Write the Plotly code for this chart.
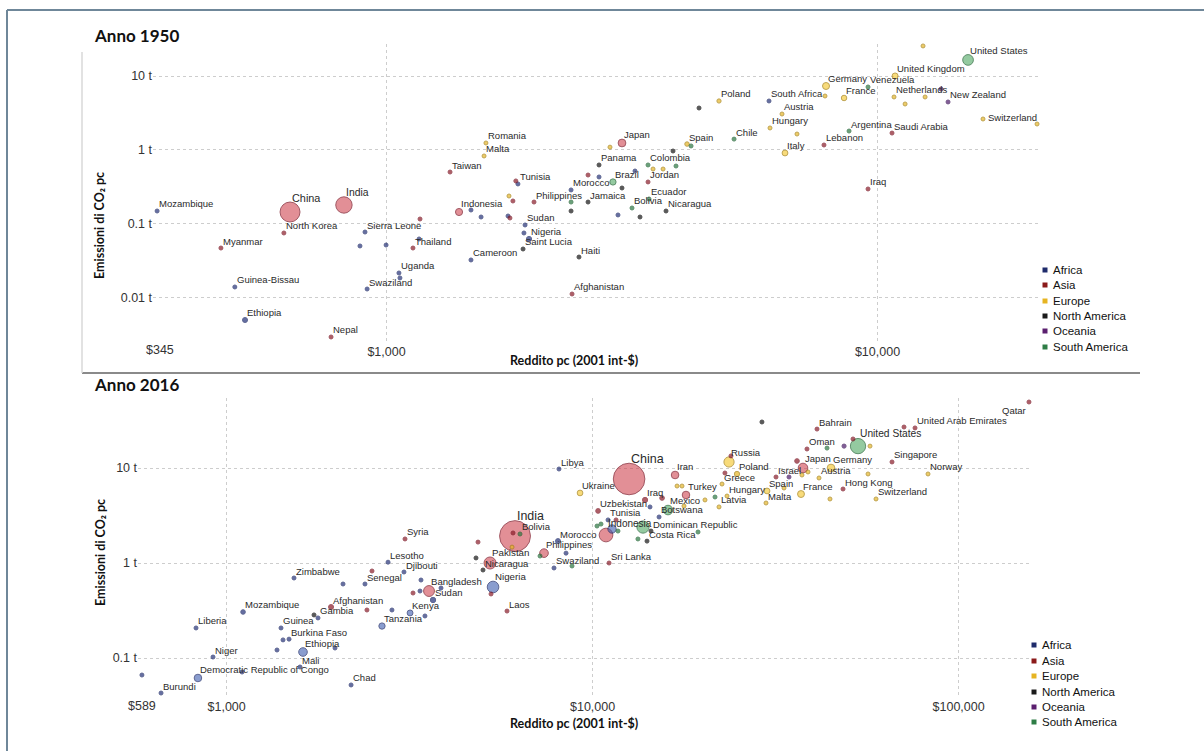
import math
import plotly.graph_objects as go

W, H = 1204, 751

# ---------------- data ----------------
regions = ["Africa", "Asia", "Europe", "North America", "Oceania", "South America"]

country_1950 = [
    "United States", "United Kingdom", "Germany", "France", "Venezuela", "Netherlands",
    "New Zealand", "Poland", "South Africa", "Austria", "Hungary", "Chile",
    "Argentina", "Saudi Arabia", "Switzerland", "Lebanon", "Spain", "Japan",
    "Italy", "Iraq", "Romania", "Malta", "Taiwan", "Tunisia",
    "Morocco", "Brazil", "Panama", "Colombia", "Jordan", "Ecuador",
    "Jamaica", "Philippines", "Bolivia", "Nicaragua", "Indonesia", "Sudan",
    "Nigeria", "Saint Lucia", "Thailand", "Cameroon", "Haiti", "Mozambique",
    "China", "India", "North Korea", "Sierra Leone", "Myanmar", "Uganda",
    "Guinea-Bissau", "Swaziland", "Ethiopia", "Nepal", "Afghanistan",
    "", "", "", "", "", "", "", "", "", "", "", "", "", "", "", "", "", "",
    "", "", "", "", "", "", "", "", "", "", "", "", "", "", "", "", "",
]
region_1950 = [
    "South America", "Europe", "Europe", "Europe", "South America", "Europe",
    "Oceania", "Europe", "Africa", "Europe", "Europe", "South America",
    "South America", "Asia", "Europe", "Asia", "Europe", "Asia",
    "Europe", "Asia", "Europe", "Europe", "Asia", "Africa",
    "Africa", "South America", "North America", "South America", "Asia", "South America",
    "North America", "Asia", "South America", "North America", "Asia", "Africa",
    "Africa", "North America", "Asia", "Africa", "North America", "Africa",
    "Asia", "Asia", "Asia", "Africa", "Asia", "Africa",
    "Africa", "Africa", "Africa", "Asia", "Asia",
    "Europe", "Oceania", "Europe", "Europe", "Europe", "North America", "Europe", "Europe",
    "Europe", "South America", "North America", "Europe", "Europe", "South America", "Asia",
    "Africa", "Africa", "North America", "South America", "North America", "Africa",
    "North America", "Asia", "Europe", "Africa", "Asia", "Africa", "Africa", "Asia", "Asia",
    "Africa", "Africa", "Africa", "Africa", "Africa",
]
income_1950 = [
    15290, 10860, 7855, 8548, 9565, 10805,
    13920, 4755, 6012, 6390, 6040, 5103,
    8750, 10703, 21130, 7780, 4093, 3017,
    6480, 9565, 1594, 1580, 1347, 1852,
    2376, 2892, 2709, 3409, 3409, 3425,
    2573, 1997, 3162, 3709, 1405, 1915,
    1951, 1897, 1132, 1486, 2466, 341,
    636, 819, 618, 904, 460, 1060,
    491, 913, 515, 771, 2387,
    12380, 13470, 12500, 11380, 7817, 4330, 16400, 6855,
    2852, 4171, 3833, 3490, 3658, 3887, 2573,
    2709, 3207, 3017, 2376, 2376, 2961,
    3283, 1809, 1776, 1768, 1784, 1558, 1486, 1170, 1834,
    1905, 883, 998, 1165, 1065,
]
co2_1950 = [
    16.5, 10.0, 7.32, 5.04, 7.10, 5.20,
    4.45, 4.59, 4.59, 3.06, 1.98, 1.40,
    1.80, 1.69, 2.24, 1.165, 1.20, 1.24,
    0.908, 0.296, 1.24, 0.827, 0.502, 0.346,
    0.287, 0.368, 0.625, 0.625, 0.368, 0.2166,
    0.197, 0.197, 0.1636, 0.149, 0.1444, 0.0964,
    0.0623, 0.0456, 0.047, 0.0324, 0.0355, 0.149,
    0.1444, 0.1797, 0.0751, 0.0774, 0.047, 0.0216,
    0.01396, 0.01311, 0.00499, 0.00294, 0.01122,
    25.5, 6.67, 5.20, 4.18, 5.36, 3.69, 2.62, 1.64,
    1.09, 1.13, 0.966, 0.551, 0.551, 0.605, 0.457,
    0.430, 0.518, 0.305, 0.197, 0.149, 0.1316,
    0.1236, 0.2035, 0.2378, 0.1275, 0.1198, 0.1236, 0.1537, 0.1161, 0.380,
    0.0751, 0.0501, 0.0516, 0.0623, 0.0185,
]
pop_1950 = [
    158, 50, 68, 42, 5, 10,
    2, 25, 13, 7, 9, 6,
    17, 3, 5, 1.4, 28, 83,
    47, 5, 16, 0.3, 8, 3.5,
    9, 54, 0.9, 12, 0.5, 3.4,
    1.4, 18, 3, 1.3, 70, 6,
    37, 0.08, 20, 4.5, 3.2, 6,
    550, 370, 10, 2, 18, 5,
    0.5, 0.3, 35, 8, 8,
    0.3, 8, 4, 4, 1, 1, 1, 1,
    1, 2, 1, 1, 1, 1, 2,
    1, 2, 1, 1, 1, 1,
    1, 2, 1, 1, 1, 2, 1, 2, 1,
    1, 1, 1, 1, 1,
]

country_2016 = [
    "Qatar", "United Arab Emirates", "Bahrain", "United States", "Oman", "Russia",
    "Japan", "Germany", "Singapore", "Norway", "Poland", "Israel",
    "Austria", "Greece", "Spain", "France", "Hong Kong", "Switzerland",
    "Hungary", "Malta", "Latvia", "Turkey", "Iraq", "Mexico",
    "Botswana", "Iran", "China", "Ukraine", "Libya", "Uzbekistan",
    "Tunisia", "Indonesia", "Dominican Republic", "Costa Rica", "Sri Lanka", "India",
    "Bolivia", "Morocco", "Philippines", "Pakistan", "Nicaragua", "Swaziland",
    "Syria", "Lesotho", "Djibouti", "Bangladesh", "Nigeria", "Sudan",
    "Laos", "Zimbabwe", "Senegal", "Mozambique", "Afghanistan", "Gambia",
    "Kenya", "Tanzania", "Liberia", "Guinea", "Burkina Faso", "Ethiopia",
    "Niger", "Mali", "Democratic Republic of Congo", "Chad", "Burundi",
    "", "", "", "", "", "", "", "", "", "", "", "", "", "", "", "", "", "",
    "", "", "", "", "", "", "", "", "", "", "", "", "", "", "", "", "", "",
    "", "", "", "", "", "", "", "", "", "", "", "", "", "", "", "", "",
]
region_2016 = [
    "Asia", "Asia", "Asia", "South America", "Asia", "Europe",
    "Asia", "Europe", "Asia", "Europe", "Europe", "Asia",
    "Europe", "Europe", "Europe", "Europe", "Asia", "Europe",
    "Europe", "Europe", "Europe", "Asia", "Asia", "South America",
    "Africa", "Asia", "Asia", "Europe", "Africa", "Asia",
    "Africa", "Asia", "North America", "North America", "Asia", "Asia",
    "South America", "Africa", "Asia", "Asia", "North America", "Africa",
    "Asia", "Africa", "Africa", "Asia", "Africa", "Africa",
    "Asia", "Africa", "Africa", "Africa", "Asia", "Africa",
    "Africa", "Africa", "Africa", "Africa", "Africa", "Africa",
    "Africa", "Africa", "Africa", "Africa", "Africa",
    "Asia", "North America", "Asia", "Europe", "Oceania", "South America",
    "Asia", "Asia", "Oceania", "Asia", "Europe", "Europe",
    "Europe", "Europe", "Europe", "Europe", "Europe", "Asia",
    "Europe", "South America", "Europe", "Africa", "Africa", "South America",
    "Asia", "South America", "South America", "South America", "South America", "South America",
    "Asia", "Europe", "South America", "Africa", "South America", "Asia",
    "North America", "Asia", "Africa", "Asia", "Africa", "Africa",
    "Africa", "Africa", "Asia", "Africa", "North America", "Asia",
    "Africa", "Africa", "Africa", "Africa", "Africa", "Africa", "Europe",
]
income_2016 = [
    155700, 76020, 41030, 53110, 38520, 23590,
    37570, 44810, 65770, 82490, 24800, 31700,
    41550, 22570, 29960, 37100, 48330, 59470,
    23290, 29770, 22150, 17995, 13910, 16070,
    15190, 16800, 12580, 9240, 8093, 10350,
    11020, 10880, 14440, 14080, 11090, 6138,
    6333, 8043, 7366, 5245, 5018, 7844,
    3072, 2761, 3052, 3573, 5345, 3664,
    5836, 1528, 2388, 1109, 1929, 1777,
    3171, 2658, 825, 1408, 1481, 1617,
    918, 1587, 835, 2188, 662,
    70930, 29020, 51460, 57270, 48640, 43700,
    23880, 36180, 34400, 22990, 33340, 37330,
    56560, 44520, 38770, 17010, 17550, 15480,
    20280, 21600, 17770, 14350, 11300, 13730,
    11590, 10280, 10540, 11730, 13300, 19410,
    6061, 6023, 7183, 8460, 8785, 4863,
    4802, 2496, 3376, 3231, 3397, 3853,
    3483, 2830, 5278, 2080, 1733, 2418,
    1426, 1978, 1373, 1102, 587, 12110, 13220,
]
co2_2016 = [
    49.5, 26.4, 25.7, 17.0, 15.85, 11.57,
    10.0, 10.0, 11.57, 8.65, 8.65, 8.04,
    7.85, 6.78, 5.73, 5.32, 6.01, 4.72,
    5.07, 4.28, 3.89, 5.20, 4.61, 3.61,
    3.05, 8.44, 7.66, 5.46, 9.76, 3.53,
    2.84, 1.97, 2.17, 1.70, 1.0, 1.92,
    2.02, 1.70, 1.27, 1.0, 0.844, 0.886,
    1.79, 1.02, 0.804, 0.507, 0.559, 0.408,
    0.312, 0.695, 0.601, 0.305, 0.344, 0.264,
    0.298, 0.217, 0.207, 0.207, 0.158, 0.1156,
    0.1024, 0.0804, 0.0616, 0.0520, 0.0428,
    27.0, 30.5, 20.2, 17.0, 17.0, 16.2,
    13.4, 11.85, 8.04, 8.86, 6.16, 8.44,
    8.65, 4.72, 9.08, 6.46, 6.46, 4.83,
    4.61, 4.95, 3.98, 3.89, 2.28, 2.39,
    2.84, 2.45, 2.57, 2.17, 1.79, 2.12,
    2.07, 1.47, 1.185, 1.27, 0.930, 1.66,
    1.13, 0.824, 0.507, 0.483, 0.662, 0.545,
    0.277, 0.320, 0.472, 0.601, 0.284, 0.320,
    0.155, 0.1274, 0.1214, 0.0712, 0.0662, 8.86, 5.73,
]
pop_2016 = [
    2.6, 9.3, 1.4, 323, 4.4, 144,
    127, 82, 5.6, 5.2, 38, 8.5,
    8.7, 10.8, 46, 66, 7.3, 8.4,
    9.8, 0.4, 2, 79, 37, 127,
    2.2, 80, 1380, 45, 6.3, 31,
    11, 260, 10.6, 4.9, 21, 1320,
    11, 35, 103, 200, 6.1, 1.3,
    18, 2.2, 0.9, 163, 186, 40,
    6.8, 16, 15, 29, 35, 2,
    48, 55, 4.6, 12, 19, 102,
    21, 18, 79, 14, 10.5,
    1, 1, 4, 0.6, 24, 3,
    18, 30, 4.7, 3, 1, 1,
    1, 1, 1, 1, 1, 30,
    1, 1, 1, 6, 95, 206,
    1, 1, 1, 8, 20, 1,
    1, 1, 3, 1, 1, 1,
    1, 1, 2, 2, 1, 3,
    1, 2, 10, 2, 1, 2,
    1, 3, 2, 1, 1, 1, 1,
]

# ---------------- styles ----------------
fill = {"Africa": "rgba(60,92,176,0.85)", "Asia": "rgba(204,58,70,0.8)",
        "Europe": "rgba(245,200,46,0.9)", "North America": "rgba(40,40,40,0.95)",
        "Oceania": "rgba(106,44,140,0.9)", "South America": "rgba(78,168,98,0.85)"}
fill_small = {"Africa": "#24327a", "Asia": "#8c1b26", "Europe": "#e6b624",
              "North America": "#141414", "Oceania": "#4d1a6c", "South America": "#2b7a42"}
edge = {"Africa": "#1c2866", "Asia": "#7a1222", "Europe": "#a57f0e",
        "North America": "#0a0a0a", "Oceania": "#3d1158", "South America": "#1d6130"}
swatch = {"Africa": "#1f2b6b", "Asia": "#8b1a1a", "Europe": "#e6b422",
          "North America": "#1a1a1a", "Oceania": "#5b1f6f", "South America": "#2e7d46"}

LABEL_FONT = "Liberation Sans, Arial, sans-serif"
TITLE_FONT = "Lato, Open Sans, sans-serif"


def diam(p):
    return max(4.0, 0.85 * math.sqrt(p))


def mcolor(reg, d):
    return fill_small[reg] if d < 5.5 else fill[reg]


def py(px):
    return 1 - px / H


fig = go.Figure()
annotations = []
shapes = []

panels = [
    dict(xa="x", ya="y", country=country_1950, region=region_1950, inc=income_1950,
         co2=co2_1950, pop=pop_1950,
         special={"Switzerland": dict(xanchor="right", xshift=2)}),
    dict(xa="x2", ya="y2", country=country_2016, region=region_2016, inc=income_2016,
         co2=co2_2016, pop=pop_2016,
         special={"Qatar": dict(xanchor="right", xshift=-1, yshift=-8)}),
]

for pn in panels:
    n = len(pn["country"])
    order = sorted(range(n), key=lambda i: -pn["pop"][i])
    fig.add_trace(go.Scatter(
        x=[pn["inc"][i] for i in order], y=[pn["co2"][i] for i in order],
        xaxis=pn["xa"], yaxis=pn["ya"], mode="markers", showlegend=False,
        cliponaxis=False, hovertext=[pn["country"][i] for i in order],
        marker=dict(size=[diam(pn["pop"][i]) for i in order],
                    color=[mcolor(pn["region"][i], diam(pn["pop"][i])) for i in order],
                    line=dict(width=1, color=[edge[pn["region"][i]] for i in order])),
    ))
    for i in range(n):
        name = pn["country"][i]
        if not name:
            continue
        d = diam(pn["pop"][i])
        fs = 9.5 + max(0.0, d - 10) * 0.14
        a = dict(x=math.log10(pn["inc"][i]), y=math.log10(pn["co2"][i]),
                 xref=pn["xa"], yref=pn["ya"], text=name, showarrow=False,
                 xanchor="left", yanchor="middle", xshift=0,
                 yshift=max(d / 2, 2.5) + 4.5,
                 font=dict(family=LABEL_FONT, size=fs, color="#2a2a2a"))
        if name in pn["special"]:
            a.update(pn["special"][name])
        annotations.append(a)

grid = dict(showgrid=True, gridcolor="#cdcdcd", griddash="dot", gridwidth=1,
            zeroline=False, showline=False, ticks="",
            tickfont=dict(family=LABEL_FONT, size=12.5, color="#333333"))

fig.update_layout(
    width=W, height=H, margin=dict(l=0, r=0, t=0, b=0), autosize=False,
    paper_bgcolor="white", plot_bgcolor="white", showlegend=False,
    xaxis=dict(type="log", domain=[153 / W, 1039 / W], range=[2.5244, 4.3289],
               tickvals=[1000, 10000], ticktext=["$1,000", "$10,000"], anchor="y", **grid),
    yaxis=dict(type="log", domain=[py(342), py(44)], range=[-2.5995, 1.433],
               tickvals=[0.01, 0.1, 1, 10], ticktext=["0.01 t", "0.1 t", "1 t", "10 t"],
               anchor="x", **grid),
    xaxis2=dict(type="log", domain=[138 / W, 1031 / W], range=[2.7579, 5.1978],
                tickvals=[1000, 10000, 100000], ticktext=["$1,000", "$10,000", "$100,000"],
                anchor="y2", **grid),
    yaxis2=dict(type="log", domain=[py(697), py(398)], range=[-1.4105, 1.7368],
                tickvals=[0.1, 1, 10], ticktext=["0.1 t", "1 t", "10 t"], anchor="x2", **grid),
)

# axis-start labels
annotations.append(dict(x=math.log10(345), xref="x", y=py(350), yref="paper", text="$345",
                        showarrow=False, xanchor="center", yanchor="middle",
                        font=dict(family=LABEL_FONT, size=12.5, color="#333333")))
annotations.append(dict(x=math.log10(589), xref="x2", y=py(706), yref="paper", text="$589",
                        showarrow=False, xanchor="center", yanchor="middle",
                        font=dict(family=LABEL_FONT, size=12.5, color="#333333")))

# titles
for txt, yy in [("Anno 1950", 35), ("Anno 2016", 384)]:
    annotations.append(dict(x=92 / W, y=py(yy), xref="paper", yref="paper", text=f"<b>{txt}</b>",
                            showarrow=False, xanchor="left", yanchor="middle",
                            font=dict(family=TITLE_FONT, size=17, color="#111111")))
for yy in [360, 723]:
    annotations.append(dict(x=574 / W, y=py(yy), xref="paper", yref="paper",
                            text="<b>Reddito pc (2001 int-$)</b>", showarrow=False,
                            xanchor="center", yanchor="middle",
                            font=dict(family=TITLE_FONT, size=12.5, color="#111111")))
for yy in [226, 553]:
    annotations.append(dict(x=100 / W, y=py(yy), xref="paper", yref="paper",
                            text="<b>Emissioni di CO₂ pc</b>", showarrow=False, textangle=-90,
                            xanchor="center", yanchor="middle",
                            font=dict(family=TITLE_FONT, size=12.5, color="#111111")))

# legends
for x0, ys in [(1045, [270, 285, 301, 316, 331, 347]), (1034, [645, 661, 676, 692, 707, 722])]:
    for reg, yy in zip(regions, ys):
        shapes.append(dict(type="rect", xref="paper", yref="paper",
                           x0=(x0 - 2.5) / W, x1=(x0 + 2.5) / W, y0=py(yy + 2.5), y1=py(yy - 2.5),
                           fillcolor=swatch[reg], line=dict(width=0)))
        annotations.append(dict(x=(x0 + 6) / W, y=py(yy), xref="paper", yref="paper", text=reg,
                                showarrow=False, xanchor="left", yanchor="middle",
                                font=dict(family=LABEL_FONT, size=11.5, color="#111111")))

# frame lines
shapes += [
    dict(type="line", xref="paper", yref="paper", x0=7 / W, x1=1, y0=py(10), y1=py(10),
         line=dict(color="#6f8799", width=2)),
    dict(type="line", xref="paper", yref="paper", x0=7 / W, x1=7 / W, y0=py(10), y1=0,
         line=dict(color="#6f8799", width=2)),
    dict(type="line", xref="paper", yref="paper", x0=82 / W, x1=1140 / W, y0=py(373), y1=py(373),
         line=dict(color="#8a8a8a", width=2)),
    dict(type="line", xref="paper", yref="paper", x0=82 / W, x1=82 / W, y0=py(52), y1=py(373),
         line=dict(color="#d9d9d9", width=1.5)),
]

fig.update_layout(annotations=annotations, shapes=shapes)
fig.write_html(
    "out.html",
    config={"displayModeBar": False},
    post_script="document.body.style.margin='0';document.body.style.padding='0';"
                "document.body.style.overflow='hidden';",
)
